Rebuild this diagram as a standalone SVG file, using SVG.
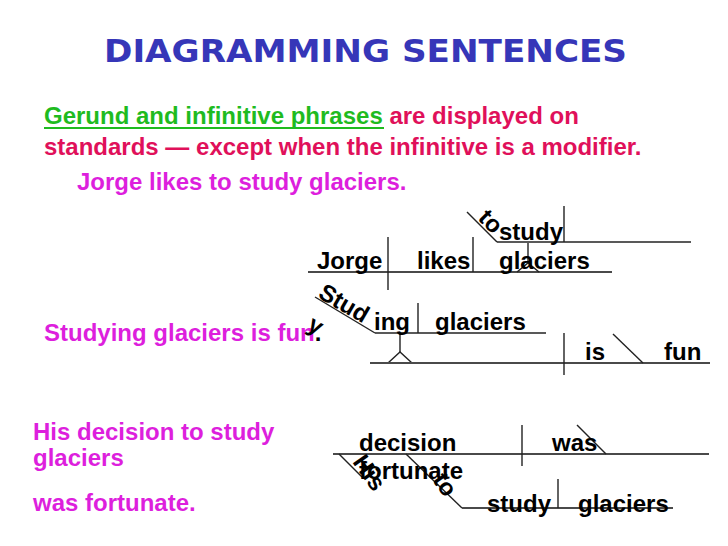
<svg xmlns="http://www.w3.org/2000/svg" width="728" height="546" viewBox="0 0 728 546">
<style>
  text { font-family: "Liberation Sans", Arial, sans-serif; font-weight: bold; font-size: 24px; }
  .title { font-family: "DejaVu Sans", "Liberation Sans", sans-serif; font-size: 32px; fill: #3636b8; }
  .green { fill: #1fbb1f; }
  .red { fill: #e0105a; }
  .mag { fill: #dd1fdd; }
  .blk { fill: #000; }
  .base { stroke: #4a4a4a; stroke-width: 2; fill: none; }
  .ln { stroke: #222; stroke-width: 1.4; fill: none; }
</style>
<rect width="728" height="546" fill="#fff"/>

<g id="title">
  <text class="title" x="104" y="62" textLength="523" lengthAdjust="spacingAndGlyphs">DIAGRAMMING SENTENCES</text>
</g>

<g id="intro">
  <text x="44" y="124"><tspan class="green">Gerund and infinitive phrases</tspan><tspan class="red"> are displayed on</tspan></text>
  <line x1="44" y1="128" x2="384" y2="128" stroke="#1fbb1f" stroke-width="2"/>
  <text class="red" x="44" y="155">standards — except when the infinitive is a modifier.</text>
</g>

<g id="sentences">
  <text class="mag" x="77" y="190">Jorge likes to study glaciers.</text>
  <text x="44" y="341"><tspan class="mag">Studying glaciers is fun</tspan><tspan class="blk">.</tspan></text>
  <text class="mag" x="33" y="440">His decision to study</text>
  <text class="mag" x="33" y="466">glaciers</text>
  <text class="mag" x="33" y="511">was fortunate.</text>
</g>

<g id="connectors">
  <!-- diagram 1 -->
  <line class="base" x1="308" y1="272" x2="612" y2="272"/>
  <line class="ln" x1="388" y1="237" x2="388" y2="290"/>
  <line class="ln" x1="473" y1="237" x2="473" y2="272"/>
  <line class="ln" x1="528" y1="243" x2="528" y2="263"/>
  <polyline class="ln" points="517,272 528,263 539,272"/>
  <line class="ln" x1="497" y1="242" x2="691" y2="242"/>
  <line class="ln" x1="467" y1="212" x2="497" y2="242"/>
  <line class="ln" x1="564" y1="206" x2="564" y2="242"/>
  <!-- diagram 2 -->
  <line class="ln" x1="375" y1="333" x2="546" y2="333"/>
  <line class="ln" x1="315" y1="297" x2="375" y2="333"/>
  <line class="ln" x1="418" y1="303" x2="418" y2="333"/>
  <line class="ln" x1="400" y1="333" x2="400" y2="352"/>
  <polyline class="ln" points="388,363 400,352 412,363"/>
  <line class="base" x1="370" y1="363" x2="710" y2="363"/>
  <line class="ln" x1="564" y1="333" x2="564" y2="375"/>
  <line class="ln" x1="613" y1="334" x2="643" y2="363"/>
  <!-- diagram 3 -->
  <line class="base" x1="333" y1="454" x2="709" y2="454"/>
  <line class="ln" x1="522" y1="425" x2="522" y2="466"/>
  <line class="ln" x1="577" y1="425" x2="606" y2="454"/>
  <line class="ln" x1="339" y1="454" x2="362" y2="477"/>
  <line class="ln" x1="406" y1="454" x2="462" y2="508"/>
  <line class="base" x1="462" y1="508" x2="673" y2="508"/>
  <line class="ln" x1="558" y1="479" x2="558" y2="508"/>
</g>

<g id="diagram1-words">
  <text x="317" y="269">Jorge</text>
  <text x="417" y="269">likes</text>
  <text x="499" y="269">glaciers</text>
  <text x="499" y="240">study</text>
  <text x="477" y="219" transform="rotate(45 477 219)">to</text>
</g>

<g id="diagram2-words">
  <text x="317" y="297" transform="rotate(30 317 297)">Stud</text>
  <text x="306" y="329" transform="rotate(30 306 329)">y</text>
  <text x="374" y="330">ing</text>
  <text x="435" y="330">glaciers</text>
  <text x="585" y="360">is</text>
  <text x="664" y="360">fun</text>
</g>

<g id="diagram3-words">
  <text x="352" y="462" transform="rotate(55 352 462)">His</text>
  <text x="359" y="451">decision</text>
  <text x="552" y="451">was</text>
  <text x="359" y="479">fortunate</text>
  <text x="432" y="480" transform="rotate(55 432 480)">to</text>
  <text x="487" y="512">study</text>
  <text x="578" y="512">glaciers</text>
</g>
</svg>
